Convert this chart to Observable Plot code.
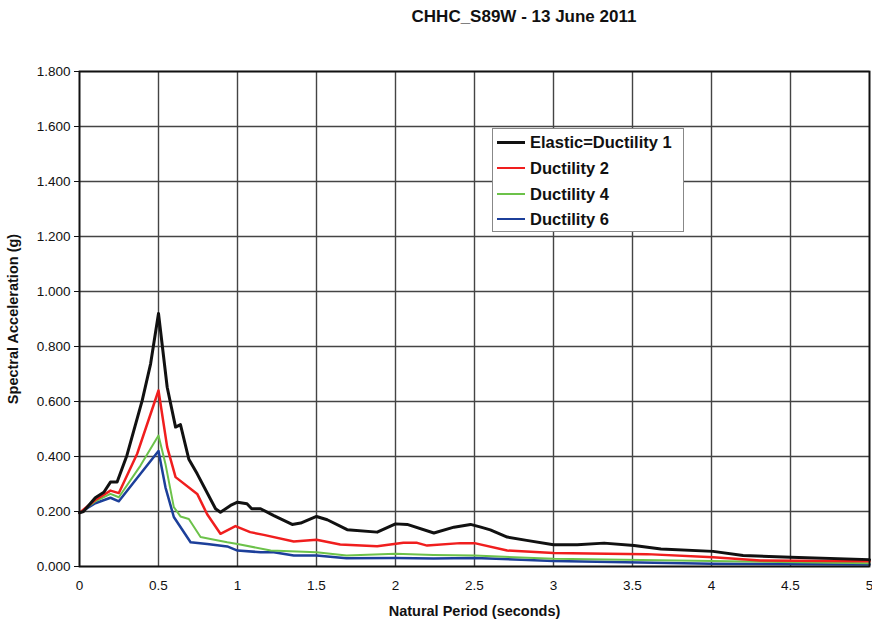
<!DOCTYPE html>
<html>
<head>
<meta charset="utf-8">
<script src="https://cdn.jsdelivr.net/npm/d3@7"></script>
<script src="https://cdn.jsdelivr.net/npm/@observablehq/plot@0.6"></script>
<style>
  body { margin: 0; background: #fff; font-family: "Liberation Sans", Arial, sans-serif; }
  #wrap { position: relative; width: 872px; height: 622px; }
  #title { position: absolute; left: 0; top: 7px; width: 1048px; text-align: center; font-weight: bold; font-size: 17px; color: #111; }
  #chart { position: absolute; left: 0; top: 40px; }
  #legend { position: absolute; left: 492px; top: 128px; width: 192px; height: 104px; border: 1.5px solid #888; background: #fff; box-sizing: border-box; }
  .row { position: absolute; left: 4px; height: 20px; display: flex; align-items: center; font-weight: bold; font-size: 16.5px; color: #111; white-space: nowrap; }
  .sw { width: 28px; height: 0; margin-right: 5px; }
  svg text { fill: #111; }
  g[aria-label="x-axis label"] text, g[aria-label="y-axis label"] text { font-weight: bold; font-size: 14.5px; }
</style>
</head>
<body>
<div id="wrap">
  <div id="title">CHHC_S89W - 13 June 2011</div>
  <div id="chart"></div>
  <div id="legend"></div>
</div>
<script>
// Natural period (s) and spectral acceleration (g) per series
const elasticT = [0, 0.025, 0.1, 0.154, 0.196, 0.238, 0.30, 0.397, 0.45, 0.5, 0.555, 0.608, 0.639, 0.692, 0.745, 0.861, 0.892, 0.956, 1.0, 1.06, 1.09, 1.146, 1.23, 1.346, 1.4, 1.5, 1.568, 1.694, 1.884, 2.0, 2.074, 2.243, 2.37, 2.475, 2.54, 2.6, 2.707, 2.83, 3.0, 3.15, 3.32, 3.51, 3.68, 4.01, 4.2, 4.5, 5.0];
const elasticSA = [0.195, 0.2, 0.25, 0.27, 0.307, 0.307, 0.404, 0.604, 0.737, 0.92, 0.652, 0.507, 0.516, 0.39, 0.337, 0.21, 0.197, 0.222, 0.234, 0.228, 0.21, 0.21, 0.185, 0.153, 0.158, 0.182, 0.17, 0.134, 0.125, 0.155, 0.153, 0.122, 0.143, 0.153, 0.143, 0.133, 0.107, 0.095, 0.079, 0.079, 0.085, 0.076, 0.064, 0.055, 0.04, 0.034, 0.025];

const duct2T = [0, 0.1, 0.196, 0.249, 0.365, 0.5, 0.555, 0.608, 0.745, 0.808, 0.892, 0.987, 1.08, 1.166, 1.356, 1.5, 1.65, 1.884, 2.05, 2.137, 2.2, 2.41, 2.5, 2.707, 3.0, 3.34, 3.59, 4.01, 4.31, 5.0];
const duct2SA = [0.195, 0.242, 0.276, 0.267, 0.41, 0.64, 0.434, 0.325, 0.264, 0.19, 0.119, 0.147, 0.125, 0.115, 0.091, 0.097, 0.08, 0.074, 0.086, 0.086, 0.076, 0.085, 0.085, 0.058, 0.049, 0.046, 0.045, 0.034, 0.022, 0.019];

const duct4T = [0, 0.1, 0.196, 0.249, 0.386, 0.5, 0.544, 0.597, 0.639, 0.692, 0.766, 0.829, 0.935, 1.0, 1.21, 1.5, 1.69, 2.0, 2.24, 2.5, 3.0, 4.0, 5.0];
const duct4SA = [0.195, 0.237, 0.264, 0.252, 0.367, 0.476, 0.373, 0.216, 0.182, 0.173, 0.107, 0.1, 0.088, 0.082, 0.058, 0.052, 0.04, 0.046, 0.042, 0.04, 0.028, 0.02, 0.012];

const duct6T = [0, 0.1, 0.196, 0.249, 0.386, 0.5, 0.544, 0.597, 0.703, 0.808, 0.935, 1.0, 1.146, 1.23, 1.356, 1.5, 1.69, 2.0, 2.24, 2.5, 3.0, 4.0, 5.0];
const duct6SA = [0.195, 0.23, 0.25, 0.237, 0.337, 0.42, 0.288, 0.18, 0.088, 0.082, 0.073, 0.058, 0.052, 0.052, 0.04, 0.04, 0.03, 0.031, 0.029, 0.031, 0.02, 0.01, 0.007];

const seriesNames = ["Elastic=Ductility 1", "Ductility 2", "Ductility 4", "Ductility 6"];
const seriesColors = ["#111111", "#f01e1e", "#6cc24a", "#1c3f9a"];
const seriesWidths = [3, 2.5, 2, 2.5];
const xTicks = [0, 0.5, 1, 1.5, 2, 2.5, 3, 3.5, 4, 4.5, 5];
const yTicks = [0, 0.2, 0.4, 0.6, 0.8, 1.0, 1.2, 1.4, 1.6, 1.8];

const seriesT = [elasticT, duct2T, duct4T, duct6T];
const seriesSA = [elasticSA, duct2SA, duct4SA, duct6SA];
const rows = [];
seriesNames.forEach((name, i) => {
  seriesT[i].forEach((t, j) => rows.push({series: name, t, sa: seriesSA[i][j]}));
});

const drawOrder = [3, 2, 1, 0];
const lineMarks = drawOrder.map(i => Plot.line(rows.filter(r => r.series === seriesNames[i]), {
  x: "t", y: "sa", stroke: seriesColors[i], strokeWidth: seriesWidths[i], strokeLinejoin: "round"
}));

const chart = Plot.plot({
  width: 872,
  height: 582,
  marginLeft: 79,
  marginRight: 3,
  marginTop: 31,
  marginBottom: 56,
  style: { fontFamily: "'Liberation Sans', Arial, sans-serif", fontSize: "13.5px", color: "#111", background: "#fff" },
  x: { domain: [0, 5] },
  y: { domain: [0, 1.8] },
  marks: [
    Plot.gridX(xTicks, { stroke: "#444", strokeOpacity: 1, strokeWidth: 1.4 }),
    Plot.gridY(yTicks, { stroke: "#444", strokeOpacity: 1, strokeWidth: 1.4 }),
    Plot.axisX({ ticks: xTicks, tickSize: 0, tickPadding: 14, tickFormat: d => String(d), label: "Natural Period (seconds)", labelAnchor: "center", labelArrow: "none", labelOffset: 49 }),
    Plot.axisY({ ticks: yTicks, tickSize: 5, tickPadding: 4, tickFormat: d3.format(".3f"), label: "Spectral Acceleration (g)", labelAnchor: "center", labelArrow: "none", labelOffset: 72 }),
    ...lineMarks,
    Plot.frame({ stroke: "#111", strokeWidth: 1.8 })
  ]
});
document.getElementById("chart").appendChild(chart);

const legend = document.getElementById("legend");
const rowTops = [3, 29, 55, 80];
seriesNames.forEach((name, i) => {
  const row = document.createElement("div");
  row.className = "row";
  row.style.top = rowTops[i] + "px";
  const sw = document.createElement("span");
  sw.className = "sw";
  sw.style.borderTop = `${i === 0 ? 3 : 2.5}px solid ${seriesColors[i]}`;
  row.appendChild(sw);
  const label = document.createElement("span");
  label.textContent = name;
  row.appendChild(label);
  legend.appendChild(row);
});
</script>
</body>
</html>
